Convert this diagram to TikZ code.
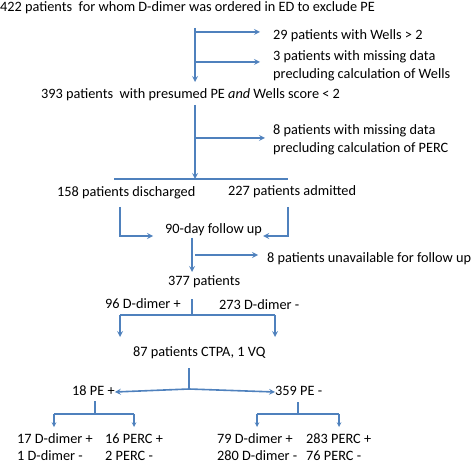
\documentclass[tikz,border=0pt]{standalone}
\usepackage{fontspec}
\setmainfont{Carlito}
\usepackage{xcolor}
\usetikzlibrary{arrows, positioning, calc}
\definecolor{flowblue}{RGB}{79,129,189}
\tikzstyle{txt} = [anchor=west, inner sep=0pt, text height=10pt, text depth=3pt, font=\fontsize{14.3}{17}\selectfont]
\tikzstyle{txttwo} = [anchor=west, inner sep=0pt, align=left, font=\fontsize{14.3}{17.5}\selectfont]
\tikzstyle{line} = [line width=1.6pt, draw=flowblue]
\tikzstyle{arrow} = [line width=1.6pt, draw=flowblue, ->, >=stealth]
\tikzstyle{smallarrow} = [line width=1.1pt, draw=flowblue, ->, >=stealth]

\begin{document}
\begin{tikzpicture}[x=1pt, y=-1pt]
\useasboundingbox (0,0) rectangle (474,465);

\node (all) [txt] at (0,8) {422 patients\ \ for whom D-dimer was ordered in ED to exclude PE};
\node (wells) [txt] at (273,36) {29 patients with Wells > 2};
\node (misswells) [txttwo] at (273,66) {3 patients with missing data\\precluding calculation of Wells};
\node (presumed) [txt] at (41,95) {393 patients\ \ with presumed PE \textit{and} Wells score < 2};
\node (missperc) [txttwo] at (273,140) {8 patients with missing data\\precluding calculation of PERC};
\node (disch) [txt] at (57,193) {158 patients discharged};
\node (admit) [txt] at (228,192) {227 patients admitted};
\node (follow) [txt] at (165,230) {90-day follow up};
\node (unavail) [txt] at (267,259) {8 patients unavailable for follow up};
\node (p377) [txt] at (168,282) {377 patients};
\node (ddpos) [txt] at (105,305) {96 D-dimer +};
\node (ddneg) [txt] at (219,306) {273 D-dimer -};
\node (ctpa) [txt] at (133,353) {87 patients CTPA, 1 VQ};
\node (pepos) [txt] at (72,392) {18 PE +};
\node (peneg) [txt] at (275,392) {359 PE -};
\node (posdd) [txttwo] at (17,447) {17 D-dimer +\\1 D-dimer -};
\node (posperc) [txttwo] at (105,447) {16 PERC +\\2 PERC -};
\node (negdd) [txttwo] at (217,447) {79 D-dimer +\\280 D-dimer -};
\node (negperc) [txttwo] at (306,447) {283 PERC +\\76 PERC -};

\coordinate (top1) at (195,28);
\coordinate (bot1) at (195,82);
\coordinate (top2) at (195,105);
\coordinate (bot2) at (195,179);
\coordinate (top3) at (192,238);
\coordinate (bot3) at (192,272);
\coordinate (split1) at (192,315);
\coordinate (split2) at (189,389);
\coordinate (split3) at (95,414);
\coordinate (split4) at (298,414);

\draw [arrow] (top1) -- (bot1);
\draw [arrow] (top1 |- 0,32) -- ([xshift=-13pt]wells.west |- 0,32);
\draw [arrow] (top1 |- 0,62) -- ([xshift=-13pt]misswells.west |- 0,62);

\draw [arrow] (top2) -- (bot2);
\draw [arrow] (top2 |- 0,138) -- ([xshift=-8pt]missperc.west |- 0,138);
\draw [line] (114,179) -- (288,179);

\draw [arrow] (120,207) -- (120,236) -- ([xshift=-12pt]follow.west |- 0,236);
\draw [arrow] (288,207) -- (288,236) -- ([xshift=1pt]follow.east |- 0,236);

\draw [arrow] (top3) -- (bot3);
\draw [arrow] (195,255) -- ([xshift=-9pt]unavail.west |- 0,255);

\draw [line] (split1 |- 0,299) -- (split1);
\draw [line] (120,315) -- (275,315);
\draw [arrow] (120,315) -- (120,337);
\draw [arrow] (275,315) -- (275,337);

\draw [line] (split2 |- 0,368) -- (split2);
\draw [arrow] (split2) -- (pepos.east);
\draw [arrow] (split2) -- (peneg.west);

\draw [line] (split3 |- 0,401) -- (split3);
\draw [line] (54,414) -- (134,414);
\draw [smallarrow] (54,414) -- (54,427);
\draw [smallarrow] (134,414) -- (134,427);

\draw [line] (split4 |- 0,402) -- (split4);
\draw [line] (257,414) -- (339,414);
\draw [smallarrow] (257,414) -- (257,427);
\draw [smallarrow] (339,414) -- (339,427);
\end{tikzpicture}
\end{document}
